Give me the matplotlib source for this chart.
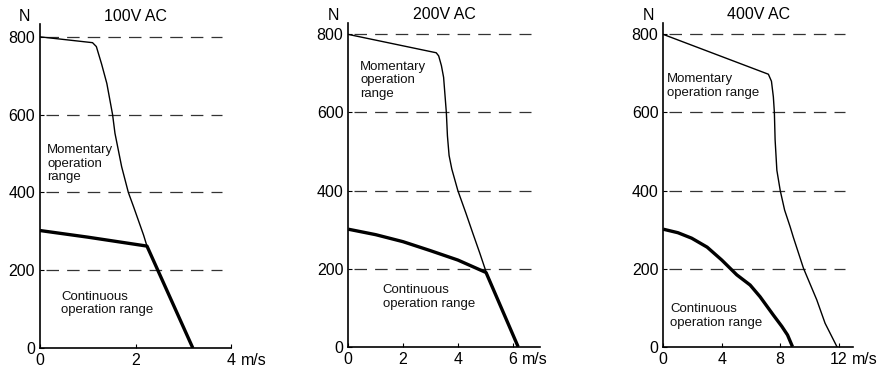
import matplotlib
matplotlib.use("Agg")
import matplotlib.pyplot as plt

plt.rcParams['font.family'] = ['Liberation Sans', 'DejaVu Sans']

# Rated voltages and axis limits (speed in m/s)
titles = ["100V AC", "200V AC", "400V AC"]
x_max = [4, 7, 13]
x_ticks = [[0, 2, 4], [0, 2, 4, 6], [0, 4, 8, 12]]
y_ticks = [0, 200, 400, 600, 800]

# Momentary (peak) thrust curves: speed [m/s], force [N]
mom_100_v = [0, 1.1, 1.18, 1.29, 1.40, 1.52, 1.57, 1.71, 1.85, 1.96, 2.17, 2.24, 3.2]
mom_100_f = [800, 785, 775, 730, 680, 600, 552, 466, 400, 363, 290, 262, 0]
mom_200_v = [0, 3.21, 3.3, 3.4, 3.48, 3.58, 3.62, 3.68, 3.78, 4.0, 4.3, 4.55, 4.8, 5.03, 6.2]
mom_200_f = [800, 753, 745, 720, 690, 600, 540, 490, 455, 400, 341, 290, 240, 192, 0]
mom_400_v = [0, 7.19, 7.4, 7.53, 7.6, 7.65, 7.77, 8.0, 8.3, 8.68, 8.9, 9.59, 10.5, 11.07, 11.88]
mom_400_f = [800, 698, 680, 640, 600, 530, 452, 400, 350, 307, 280, 201, 120, 60, 0]

# Continuous thrust curves: speed [m/s], force [N]
cont_100_v = [0, 1.0, 2.24, 3.2]
cont_100_f = [302, 285, 262, 0]
cont_200_v = [0, 1.0, 2.0, 3.0, 4.0, 5.03, 6.2]
cont_200_f = [301, 287, 269, 246, 222, 190, 0]
cont_400_v = [0, 1.0, 1.94, 3.0, 4.0, 5.03, 5.94, 6.62, 7.53, 8.11, 8.5, 8.84]
cont_400_f = [301, 292, 278, 255, 222, 184, 158, 128, 81, 52, 30, 0]

momentary = [(mom_100_v, mom_100_f), (mom_200_v, mom_200_f), (mom_400_v, mom_400_f)]
continuous = [(cont_100_v, cont_100_f), (cont_200_v, cont_200_f), (cont_400_v, cont_400_f)]

mom_label = ["Momentary\noperation\nrange", "Momentary\noperation\nrange", "Momentary\noperation range"]
cont_label = "Continuous\noperation range"

W, H = 879, 373
fig = plt.figure(figsize=(W / 100, H / 100), dpi=100)

# axes boxes in pixels: left x, right x, bottom y, top y
boxes = [(40, 231, 348, 24), (348.3, 540, 346.7, 22.7), (663.3, 853.3, 346.7, 22.7)]
y_tops = [833, 830, 830]
mom_pos = [(0.15, 524), (0.43, 732), (0.27, 700)]
cont_pos = [(0.45, 147), (1.25, 160), (0.46, 111)]
unit_off = [9.5, 9.5, 13.5]

for i in range(3):
    l, r, b, t = boxes[i]
    ax = fig.add_axes([l / W, 1 - b / H, (r - l) / W, (b - t) / H])
    ax.set_xlim(0, x_max[i])
    ax.set_ylim(0, y_tops[i])
    for s in ("top", "right"):
        ax.spines[s].set_visible(False)
    for s in ("left", "bottom"):
        ax.spines[s].set_linewidth(1.2)
    ax.set_xticks(x_ticks[i])
    ax.set_yticks(y_ticks)
    ax.tick_params(direction="in", length=3, width=0.8, labelsize=11.5, pad=3.5)

    # dashed reference lines
    for yv in y_ticks[1:]:
        ax.plot([0.03 * x_max[i], 0.955 * x_max[i]], [yv, yv], color="#333333",
                lw=0.9, dashes=(10, 6.5), zorder=1)

    mv, mf = momentary[i]
    ax.plot(mv, mf, color="black", lw=1.0, solid_joinstyle="round", zorder=3)
    cv, cf = continuous[i]
    ax.plot(cv, cf, color="black", lw=2.4, solid_capstyle="butt",
            solid_joinstyle="round", zorder=4)

    ax.text(mom_pos[i][0], mom_pos[i][1], mom_label[i], ha="left", va="top",
            fontsize=9.5, linespacing=1.15, color="#111111")
    ax.text(cont_pos[i][0], cont_pos[i][1], cont_label, ha="left", va="top",
            fontsize=9.5, linespacing=1.15, color="#111111")

    ax.set_title(titles[i], fontsize=11.5, pad=6, y=0.985)
    ax.annotate("N", xy=(0, 1), xycoords="axes fraction", xytext=(-11, 0),
                textcoords="offset points", ha="center", va="bottom", fontsize=11.5)
    ax.annotate("m/s", xy=(x_ticks[i][-1], 0), xycoords="data",
                xytext=(unit_off[i] * 0.72, -3.5), textcoords="offset points",
                ha="left", va="top", fontsize=11.5)

fig.savefig("out.png", dpi=100)
